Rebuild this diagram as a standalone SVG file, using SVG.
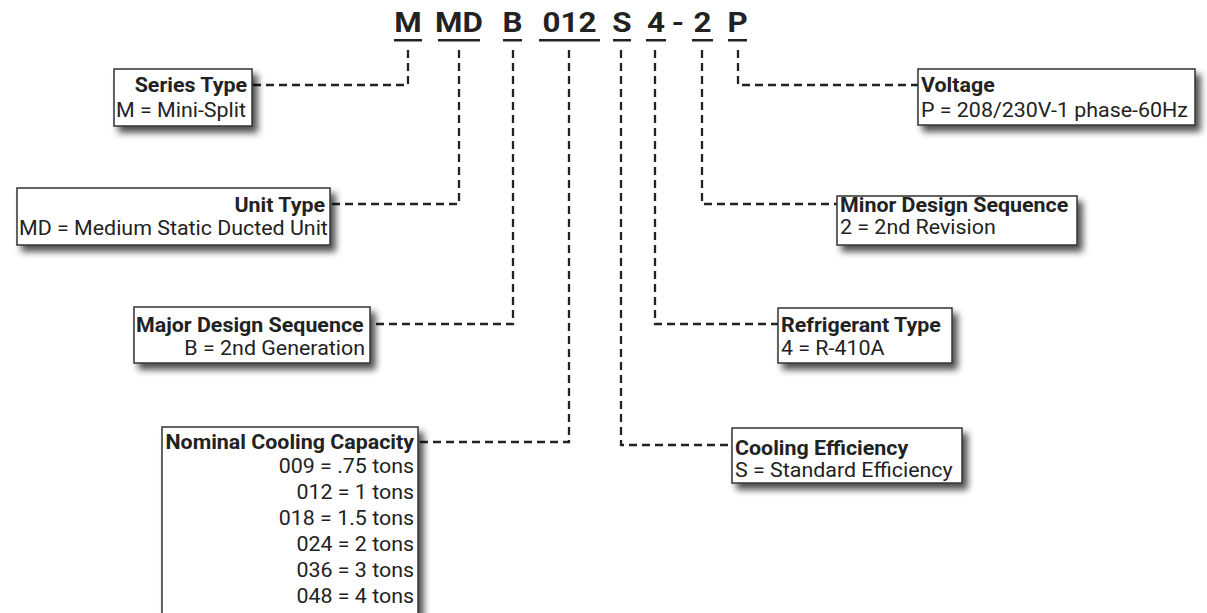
<svg xmlns="http://www.w3.org/2000/svg" width="1207" height="613" viewBox="0 0 1207 613">
<style>
.code{font-family:Roboto,"Liberation Sans",sans-serif;font-weight:700;font-size:28px;fill:#222;text-anchor:middle}
.ul{fill:#222}
.box{fill:#fff;stroke:#333;stroke-width:1.5;filter:url(#sh)}
.t{font-family:Roboto,"Liberation Sans",sans-serif;font-weight:700;font-size:20px;fill:#222}
.v{font-family:Roboto,"Liberation Sans",sans-serif;font-size:20px;fill:#222}
.r{text-anchor:end}
.c{fill:none;stroke:#222;stroke-width:2.3;stroke-dasharray:8 5}
</style>
<defs>
<filter id="sh" x="-20%" y="-30%" width="150%" height="180%">
<feGaussianBlur in="SourceAlpha" stdDeviation="3.5"/>
<feOffset dx="5" dy="6" result="b"/>
<feComponentTransfer><feFuncA type="linear" slope="0.7"/></feComponentTransfer>
<feMerge><feMergeNode/><feMergeNode in="SourceGraphic"/></feMerge>
</filter>
</defs>
<rect width="1207" height="613" fill="#fff"/>
<g id="code">
<text class="code" transform="translate(408 32) scale(1.12 1)">M</text><rect class="ul" x="394" y="39" width="28" height="2.5"/>
<text class="code" transform="translate(459 32) scale(1.12 1)">MD</text><rect class="ul" x="438" y="39" width="42" height="2.5"/>
<text class="code" transform="translate(512.5 32) scale(1.12 1)">B</text><rect class="ul" x="503" y="39" width="19" height="2.5"/>
<text class="code" transform="translate(569.5 32) scale(1.12 1)">012</text><rect class="ul" x="539" y="39" width="61" height="2.5"/>
<text class="code" transform="translate(622 32) scale(1.12 1)">S</text><rect class="ul" x="613" y="39" width="18" height="2.5"/>
<text class="code" transform="translate(656 32) scale(1.12 1)">4</text><rect class="ul" x="646" y="39" width="20" height="2.5"/>
<text class="code" transform="translate(678 32) scale(1.12 1)">-</text>
<text class="code" transform="translate(702.5 32) scale(1.12 1)">2</text><rect class="ul" x="692" y="39" width="21" height="2.5"/>
<text class="code" transform="translate(737.5 32) scale(1.12 1)">P</text><rect class="ul" x="728" y="39" width="19" height="2.5"/>
</g>
<g id="connectors">
<path class="c" d="M408,50 V85 H252"/>
<path class="c" d="M459,50 V204 H330"/>
<path class="c" d="M513,50 V324 H370"/>
<path class="c" d="M569,50 V442 H418"/>
<path class="c" d="M621,50 V445 H732"/>
<path class="c" d="M655,50 V324 H778"/>
<path class="c" d="M702,50 V204 H837"/>
<path class="c" d="M738,50 V85 H918"/>
</g>
<g id="series-type">
<rect class="box" x="114" y="69" width="138" height="57"/>
<text class="t r" transform="translate(247 92) scale(1.07 1)">Series Type</text>
<text class="v" transform="translate(116 117) scale(1.07 1)">M = Mini-Split</text>
</g>
<g id="unit-type">
<rect class="box" x="17" y="188" width="313" height="57"/>
<text class="t r" transform="translate(325 212) scale(1.07 1)">Unit Type</text>
<text class="v" transform="translate(19 235) scale(1.07 1)">MD = Medium Static Ducted Unit</text>
</g>
<g id="major-design">
<rect class="box" x="134" y="307" width="236" height="56"/>
<text class="t" transform="translate(136 332) scale(1.07 1)">Major Design Sequence</text>
<text class="v r" transform="translate(365 355) scale(1.07 1)">B = 2nd Generation</text>
</g>
<g id="nominal-capacity">
<rect class="box" x="162" y="427" width="256" height="200"/>
<text class="t r" transform="translate(414 449) scale(1.07 1)">Nominal Cooling Capacity</text>
<text class="v r" transform="translate(414 473) scale(1.07 1)">009 = .75 tons</text>
<text class="v r" transform="translate(414 499) scale(1.07 1)">012 = 1 tons</text>
<text class="v r" transform="translate(414 525) scale(1.07 1)">018 = 1.5 tons</text>
<text class="v r" transform="translate(414 551) scale(1.07 1)">024 = 2 tons</text>
<text class="v r" transform="translate(414 577) scale(1.07 1)">036 = 3 tons</text>
<text class="v r" transform="translate(414 603) scale(1.07 1)">048 = 4 tons</text>
</g>
<g id="voltage">
<rect class="box" x="918" y="69" width="277" height="56"/>
<text class="t" transform="translate(921 92) scale(1.07 1)">Voltage</text>
<text class="v" transform="translate(921 117) scale(1.07 1)">P = 208/230V-1 phase-60Hz</text>
</g>
<g id="minor-design">
<rect class="box" x="837" y="196" width="240" height="49"/>
<text class="t" transform="translate(840 212) scale(1.07 1)">Minor Design Sequence</text>
<text class="v" transform="translate(840 234) scale(1.07 1)">2 = 2nd Revision</text>
</g>
<g id="refrigerant">
<rect class="box" x="778" y="308" width="174" height="55"/>
<text class="t" transform="translate(781 332) scale(1.07 1)">Refrigerant Type</text>
<text class="v" transform="translate(781 355) scale(1.07 1)">4 = R-410A</text>
</g>
<g id="cooling-efficiency">
<rect class="box" x="732" y="428" width="230" height="55"/>
<text class="t" transform="translate(735 455) scale(1.07 1)">Cooling Efficiency</text>
<text class="v" transform="translate(735 477) scale(1.07 1)">S = Standard Efficiency</text>
</g>
</svg>
